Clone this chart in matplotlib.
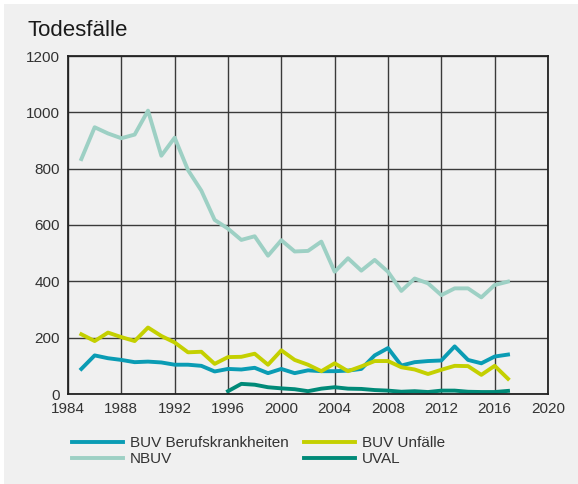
import matplotlib.pyplot as plt
from matplotlib.patches import Rectangle

plt.rcParams['font.family'] = ['Liberation Sans', 'DejaVu Sans']

years = list(range(1985, 2018))
uval_years = list(range(1996, 2018))

buv_bk = [89, 137, 127, 121, 113, 115, 112, 104, 104, 100, 80, 89, 87, 93, 74, 89,
          74, 84, 81, 81, 83, 89, 137, 163, 101, 113, 117, 119, 169, 121, 109, 133, 140]
buv_unf = [212, 188, 218, 202, 188, 236, 206, 183, 148, 150, 107, 131, 132, 143, 104, 155,
           121, 104, 81, 109, 81, 98, 117, 117, 95, 87, 71, 86, 100, 99, 68, 100, 54]
nbuv = [834, 947, 925, 908, 921, 1006, 846, 910, 795, 722, 618, 587, 547, 560, 491, 546,
        506, 508, 541, 434, 482, 438, 476, 434, 366, 410, 393, 351, 375, 375, 343, 387, 399]
uval = [10, 36, 33, 24, 20, 17, 10, 19, 24, 19, 18, 14, 12, 8, 10, 7, 12, 12, 8, 7, 7, 11]

fig = plt.figure(figsize=(5.78, 4.84), dpi=100, facecolor='white')
fig.patches.append(Rectangle((4 / 578, 0), 1, 1 - 4 / 484, transform=fig.transFigure,
                             facecolor='#f0f0f0', edgecolor='none', zorder=-10))

ax = fig.add_axes([68 / 578, 90 / 484, 480 / 578, 338 / 484])
ax.set_facecolor('#f0f0f0')

l1, = ax.plot(years, buv_bk, color='#0a9cb4', lw=2.8, label='BUV Berufskrankheiten')
l2, = ax.plot(years, buv_unf, color='#c4d000', lw=2.8, label='BUV Unfälle')
l3, = ax.plot(years, nbuv, color='#9dd0c4', lw=2.8, label='NBUV')
l4, = ax.plot(uval_years, uval, color='#008a78', lw=2.8, label='UVAL')

ax.set_xlim(1984, 2020)
ax.set_ylim(0, 1200)
ax.set_xticks(range(1984, 2021, 4))
ax.set_yticks(range(0, 1201, 200))
ax.grid(True, color='#3a3a3a', lw=1)
ax.set_axisbelow(True)
for s in ax.spines.values():
    s.set_color('#222222')
    s.set_linewidth(1.3)
ax.tick_params(length=0, labelsize=11, colors='#333333', pad=6)

fig.text(27 / 578, 1 - 31 / 484, 'Todesfälle', fontsize=16, color='#1a1a1a',
         va='center', ha='left')

fig.legend(handles=[l1, l3, l2, l4], ncol=2, loc='upper left',
           bbox_to_anchor=(66 / 578, 1 - 430 / 484), frameon=False,
           fontsize=11, labelcolor='#333333', handlelength=3.3, handletextpad=0.5,
           columnspacing=1.0, labelspacing=0.15, borderaxespad=0)

fig.savefig('out.png', dpi=100, facecolor=fig.get_facecolor())
